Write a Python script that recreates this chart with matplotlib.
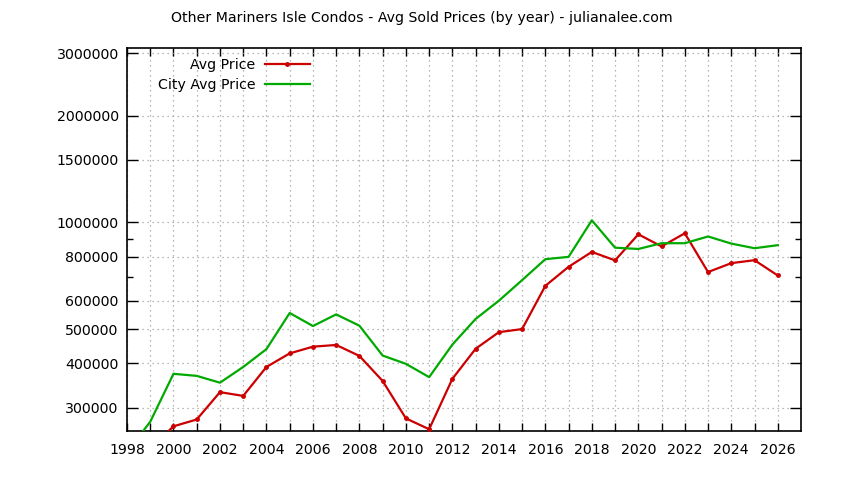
import matplotlib
matplotlib.use("Agg")
import matplotlib.pyplot as plt
from matplotlib.ticker import FixedLocator, NullFormatter

plt.rcParams['font.family'] = ['DejaVu Sans']
plt.rcParams['font.size'] = 10.2

title = "Other Mariners Isle Condos - Avg Sold Prices (by year) - julianalee.com"

years_avg = [1999, 2000, 2001, 2002, 2003, 2004, 2005, 2006, 2007, 2008, 2009, 2010,
             2011, 2012, 2013, 2014, 2015, 2016, 2017, 2018, 2019, 2020, 2021,
             2022, 2023, 2024, 2025, 2026]
avg_price = [230000, 266000, 278000, 332000, 324000, 391000, 427000, 446000, 451000,
             420000, 357000, 280000, 261000, 362000, 440000, 490000, 500000, 662000,
             749000, 825000, 781000, 925000, 855000, 931000, 724000, 767000, 782000,
             708000]

years_city = [1998, 1999, 2000, 2001, 2002, 2003, 2004, 2005, 2006, 2007, 2008, 2009,
              2010, 2011, 2012, 2013, 2014, 2015, 2016, 2017, 2018, 2019, 2020,
              2021, 2022, 2023, 2024, 2025, 2026]
city_price = [225000, 274000, 374000, 369000, 353000, 391000, 439000, 555000, 510000,
              550000, 511000, 421000, 399000, 366000, 452000, 534000, 601000, 687000,
              787000, 799000, 1013000, 848000, 841000, 873000, 873000, 912000, 871000,
              845000, 862000]

ytick_values = [300000, 400000, 500000, 600000, 800000, 1000000, 1500000, 2000000, 3000000]
ytick_labels = [str(v) for v in ytick_values]
yminor_values = [700000, 900000]
xtick_years = list(range(1998, 2027))
xtick_labels = [str(y) if y % 2 == 0 else "" for y in xtick_years]

fig = plt.figure(figsize=(8.44, 4.8), dpi=100)
ax = fig.add_axes([127/844, 1-431/480, (801-127)/844, (431-48)/480])

red = '#cc0000'
green = '#00aa00'

ax.plot(years_avg, avg_price, color=red, lw=1.6, marker='o', markersize=2.5,
        label='Avg Price', zorder=3)
ax.plot(years_city, city_price, color=green, lw=1.6, label='City Avg Price', zorder=3)

ax.set_yscale('log')
ax.set_xlim(1998, 2027)
ax.set_ylim(258000, 3100000)

ax.yaxis.set_major_locator(FixedLocator(ytick_values))
ax.set_yticklabels(ytick_labels)
ax.yaxis.set_minor_locator(FixedLocator(yminor_values))
ax.yaxis.set_minor_formatter(NullFormatter())
ax.set_xticks(xtick_years)
ax.set_xticklabels(xtick_labels)

ax.tick_params(which='both', direction='in', top=True, right=True, labelsize=10.2,
               color='black')
ax.tick_params(axis='y', which='major', length=8, width=1, pad=6)
ax.tick_params(axis='y', which='minor', length=4, width=1)
ax.tick_params(axis='x', which='major', length=6, width=1, pad=9)

ax.grid(True, which='major', color='#a0a0a0', linestyle=(0, (1, 3)), linewidth=0.9)
for s in ax.spines.values():
    s.set_linewidth(1.2)

fig.text(0.5, 1-18/480, title, ha='center', va='center', fontsize=10.2)

leg = ax.legend(loc='upper right', bbox_to_anchor=(310/844, 1-58/480),
                bbox_transform=fig.transFigure, frameon=False, markerfirst=False,
                handlelength=3.2, handletextpad=0.65, borderpad=0, borderaxespad=0,
                labelspacing=0.45, fontsize=10.2)

fig.savefig('out.png', dpi=100)
